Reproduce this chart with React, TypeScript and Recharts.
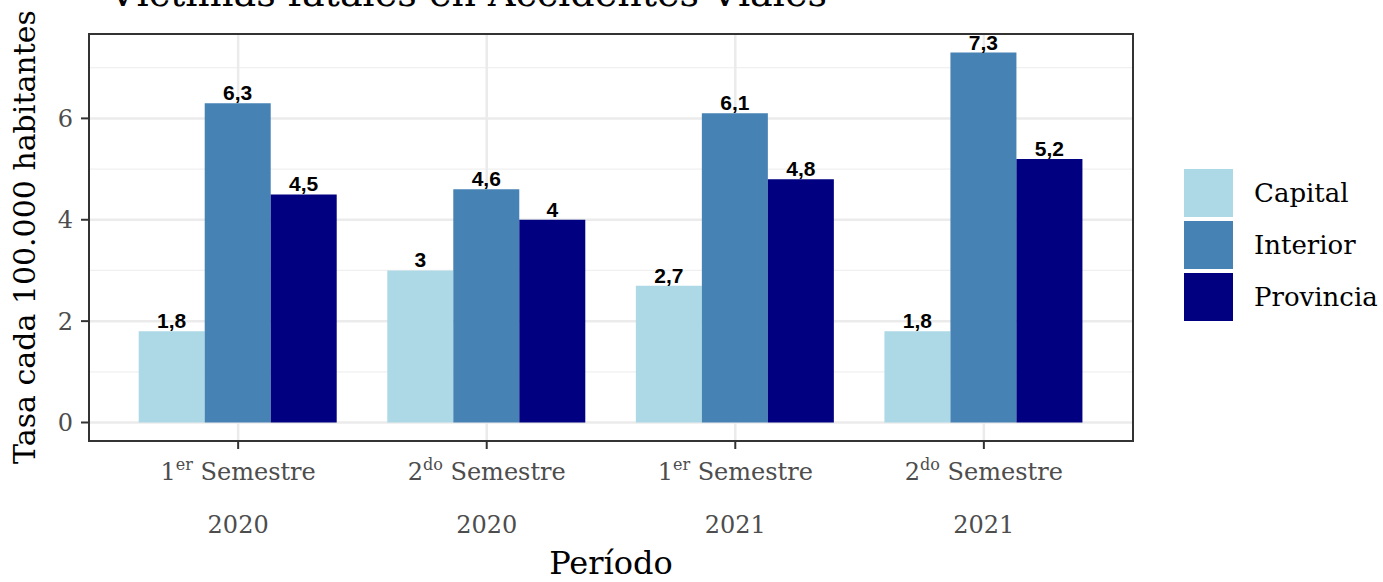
import { BarChart, Bar, XAxis, YAxis, CartesianGrid, Legend, LabelList, ReferenceArea, Customized } from "recharts";

const periods = ["1er Semestre 2020", "2do Semestre 2020", "1er Semestre 2021", "2do Semestre 2021"];
const ordinals = ["1", "2", "1", "2"];
const ordinalSup = ["er", "do", "er", "do"];
const years = ["2020", "2020", "2021", "2021"];

const capital = [1.8, 3, 2.7, 1.8];
const interior = [6.3, 4.6, 6.1, 7.3];
const provincia = [4.5, 4, 4.8, 5.2];

const seriesNames = ["Capital", "Interior", "Provincia"];
const seriesColors = ["#ADD8E6", "#4682B4", "#000080"];

const yTicks = [0, 2, 4, 6];
const yMinor = [1, 3, 5, 7];
const xPositions = [1, 2, 3, 4];

const X_DOMAIN = [0.4, 4.6];
const Y_DOMAIN = [-0.365, 7.665];

const SERIF = "'DejaVu Serif', serif";

const data = periods.map((p, i) => ({
  pos: xPositions[i],
  period: p,
  Capital: capital[i],
  Interior: interior[i],
  Provincia: provincia[i],
}));

const fmt = (v: any) => String(v).replace(".", ",");

function PeriodTick({ x, y, payload }: any) {
  const i = xPositions.indexOf(payload.value);
  return (
    <g>
      <text x={x} y={y + 29} textAnchor="middle" fontFamily={SERIF} fontSize={24} fill="#4D4D4D">
        {ordinals[i]}
        <tspan dy={-10} fontSize={16}>{ordinalSup[i]}</tspan>
        <tspan dy={10} fontSize={24}>{" Semestre"}</tspan>
      </text>
      <text x={x} y={y + 82} textAnchor="middle" fontFamily={SERIF} fontSize={24} fill="#4D4D4D">
        {years[i]}
      </text>
    </g>
  );
}

function LegendBox({ payload }: any) {
  return (
    <div>
      {(payload || []).map((item: any) => (
        <div key={item.value} style={{ display: "flex", alignItems: "center", height: 48, marginBottom: 4 }}>
          <div style={{ width: 49, height: 48, background: item.color }} />
          <span style={{ marginLeft: 21, fontFamily: SERIF, fontSize: 26, color: "#000" }}>{item.value}</span>
        </div>
      ))}
    </div>
  );
}

function Titles() {
  return (
    <g>
      <text x={109} y={6} fontFamily={SERIF} fontSize={38} fill="#000" textLength={718} lengthAdjust="spacingAndGlyphs">
        Víctimas fatales en Accidentes Viales
      </text>
      <text
        x={0}
        y={0}
        transform="translate(35,237) rotate(-90)"
        textAnchor="middle"
        fontFamily={SERIF}
        fontSize={30}
        fill="#000"
      >
        Tasa cada 100.000 habitantes
      </text>
      <text x={611} y={574} textAnchor="middle" fontFamily={SERIF} fontSize={32} fill="#000">
        Período
      </text>
    </g>
  );
}

export default function App() {
  return (
    <div style={{ position: "absolute", left: 0, top: 0, width: 1383, height: 582, background: "#fff" }}>
      <BarChart
        width={1383}
        height={582}
        data={data}
        margin={{ top: 34, right: 51, left: 9, bottom: 31 }}
        barCategoryGap="10%"
        barGap={0}
      >
        <CartesianGrid horizontalValues={yMinor} vertical={false} stroke="#F0F0F0" strokeWidth={1.2} />
        <CartesianGrid horizontalValues={yTicks} verticalValues={xPositions} stroke="#EBEBEB" strokeWidth={2.5} />
        <XAxis
          dataKey="pos"
          type="number"
          domain={X_DOMAIN}
          ticks={xPositions}
          allowDataOverflow
          height={110}
          tickSize={8}
          tickMargin={2}
          interval={0}
          tick={<PeriodTick />}
          axisLine={false}
          tickLine={{ stroke: "#333333", strokeWidth: 2 }}
        />
        <YAxis
          type="number"
          domain={Y_DOMAIN}
          ticks={yTicks}
          allowDataOverflow
          width={80}
          tickSize={8}
          tickMargin={8}
          tick={{ fill: "#4D4D4D", fontSize: 24, fontFamily: SERIF }}
          axisLine={false}
          tickLine={{ stroke: "#333333", strokeWidth: 2 }}
        />
        {seriesNames.map((name, k) => (
          <Bar key={name} dataKey={name} name={name} fill={seriesColors[k]} isAnimationActive={false}>
            <LabelList
              dataKey={name}
              position="top"
              offset={3}
              formatter={fmt}
              style={{ fontFamily: "'Liberation Sans', Arial, sans-serif", fontWeight: "bold", fontSize: 21, fill: "#000" }}
            />
          </Bar>
        ))}
        <ReferenceArea
          x1={X_DOMAIN[0]}
          x2={X_DOMAIN[1]}
          y1={Y_DOMAIN[0]}
          y2={Y_DOMAIN[1]}
          fill="none"
          fillOpacity={0}
          stroke="#333333"
          strokeWidth={2}
          strokeOpacity={1}
          ifOverflow="visible"
        />
        <Legend
          layout="horizontal"
          align="right"
          verticalAlign="middle"
          content={<LegendBox />}
          wrapperStyle={{ left: 1184, top: 169, width: 199, right: "auto", bottom: "auto" }}
        />
        <Customized component={Titles} />
      </BarChart>
    </div>
  );
}
